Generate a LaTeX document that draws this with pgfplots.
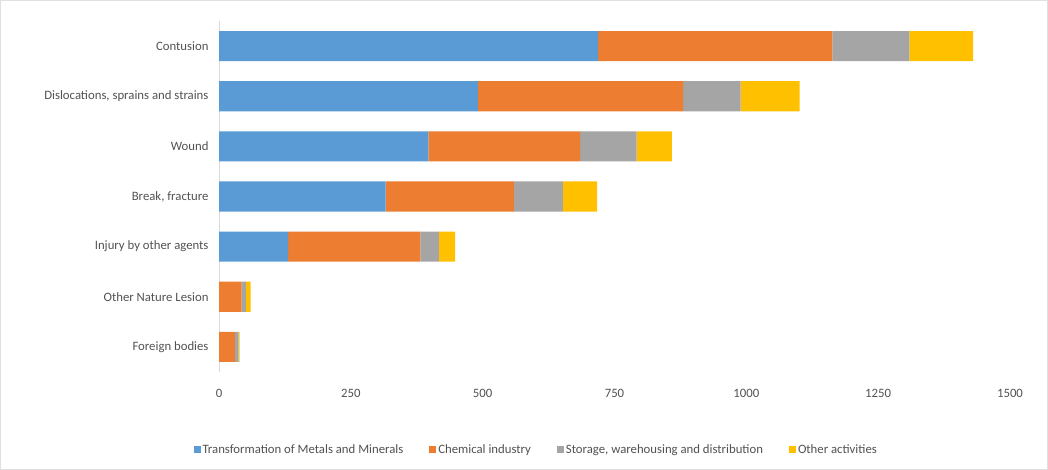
\documentclass[border=0pt]{standalone}
\usepackage{pgfplots}
\pgfplotsset{compat=1.18}
\usepackage{fontspec}
\setmainfont{Carlito}
\definecolor{cblue}{HTML}{5B9BD5}
\definecolor{corange}{HTML}{ED7D31}
\definecolor{cgray}{HTML}{A5A5A5}
\definecolor{cyellow}{HTML}{FFC000}
\begin{document}
\begin{tikzpicture}
\useasboundingbox (0,0) rectangle (1048bp,470bp);
\draw[color=black!12, line width=0.8bp] (0.5bp,0.5bp) rectangle (1047.5bp,469.5bp);
\begin{axis}[
  at={(219bp,98bp)}, anchor=south west,
  scale only axis, width=791bp, height=351bp,
  xbar stacked, bar width=0.6,
  xmin=0, xmax=1500, xtick={0,250,500,750,1000,1250,1500},
  ymin=-0.5, ymax=6.5, ytick={0,1,2,3,4,5,6},
  yticklabels={Foreign bodies, Other Nature Lesion, Injury by other agents, {Break, fracture}, Wound, {Dislocations, sprains and strains}, Contusion},
  axis lines*=left,
  x axis line style={draw=none},
  y axis line style={draw=black!15, line width=0.8bp},
  major tick length=0pt,
  tick label style={font=\fontsize{12.8}{15}\selectfont, text=black!68},
  /pgf/number format/assume math mode=true,
  /pgf/number format/set thousands separator={},
  scaled x ticks=false,
  yticklabel style={xshift=-7bp},
  xticklabel style={yshift=-14bp},
  legend style={at={(0.401,-0.222)}, anchor=center, legend columns=4, draw=none,
    font=\fontsize{12.8}{15}\selectfont, text=black!68,
    /tikz/every even column/.append style={column sep=24bp}},
  legend image code/.code={\path[#1] (1bp,-3.5bp) rectangle (8bp,3.5bp);},
]
\addplot[fill=cblue, draw=none] coordinates {(0,0) (0,1) (131,2) (316,3) (397,4) (491,5) (719,6)};
\addplot[fill=corange, draw=none] coordinates {(30,0) (43,1) (251,2) (243,3) (288,4) (389,5) (444,6)};
\addplot[fill=cgray, draw=none] coordinates {(7,0) (8,1) (35,2) (93,3) (107,4) (109,5) (146,6)};
\addplot[fill=cyellow, draw=none] coordinates {(2,0) (9,1) (31,2) (65,3) (67,4) (112,5) (121,6)};
\legend{Transformation of Metals and Minerals, Chemical industry, {Storage, warehousing and distribution}, Other activities}
\end{axis}
\end{tikzpicture}
\end{document}
